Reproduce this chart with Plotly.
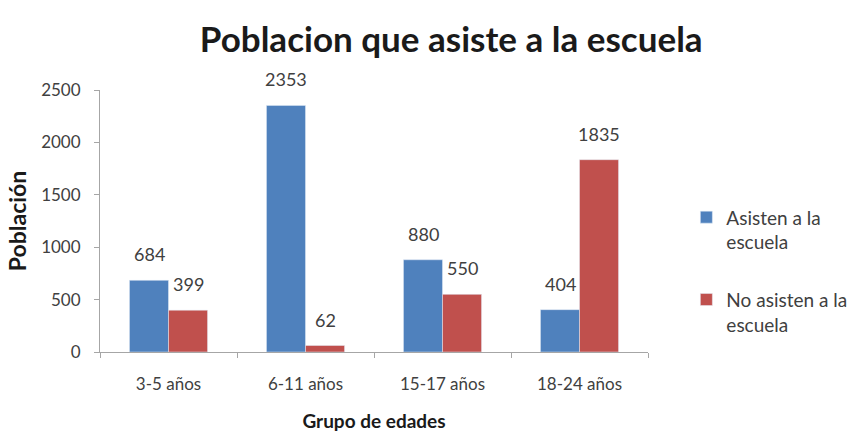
import plotly.graph_objects as go

categories = ["3-5 años", "6-11 años", "15-17 años", "18-24 años"]
asisten = [684, 2353, 880, 404]
no_asisten = [399, 62, 550, 1835]
series_names = ["Asisten a la<br>escuela", "No asisten a la<br>escuela"]
y_ticks = [0, 500, 1000, 1500, 2000, 2500]

FONT = "Lato"
BLUE = "#4F81BD"
RED = "#C0504D"
TXT = "#404040"

fig = go.Figure()
fig.add_trace(go.Bar(x=categories, y=asisten, name=series_names[0], marker_color=BLUE,
                     legendgroup="g1"))
fig.add_trace(go.Bar(x=categories, y=no_asisten, name=series_names[1], marker_color=RED,
                     legendgroup="g2"))

# value labels above bars
for vals, shift in ((asisten, -19.5), (no_asisten, 19.5)):
    for c, v in zip(categories, vals):
        fig.add_annotation(x=c, y=v, text=str(v), showarrow=False, xshift=shift,
                           yanchor="bottom", yshift=13,
                           font=dict(size=18, color=TXT, family=FONT))

fig.update_layout(
    width=853, height=433,
    margin=dict(l=100, r=205, t=90, b=81, autoexpand=False),
    paper_bgcolor="white", plot_bgcolor="white",
    barmode="group", bargap=0.43, bargroupgap=0,
    font=dict(family=FONT, color=TXT, size=17),
    title=dict(text="<b>Poblacion que asiste a la escuela</b>", x=0.529, xanchor="center",
               y=0.908, yanchor="middle", font=dict(size=35, color="#1a1a1a", family=FONT)),
    legend=dict(x=1.07, y=0.31, xanchor="left", yanchor="middle", valign="top",
                font=dict(size=19, color=TXT, family=FONT), tracegroupgap=30,
                itemwidth=30),
    showlegend=True,
)
fig.update_xaxes(showline=True, linecolor="#a6a6a6", linewidth=1, ticks="outside",
                 tickson="boundaries", ticklen=5, tickcolor="#a6a6a6",
                 ticklabelstandoff=17,
                 tickfont=dict(size=17, color=TXT),
                 title=dict(text="<b>Grupo de edades</b>", font=dict(size=19, color="#1a1a1a"), standoff=21))
fig.update_yaxes(range=[0, 2500], tickvals=y_ticks, showline=True, linecolor="#a6a6a6",
                 linewidth=1, ticks="outside", ticklen=5, tickcolor="#a6a6a6", showgrid=False,
                 ticklabelstandoff=10,
                 zeroline=False, tickfont=dict(size=17, color=TXT),
                 title=dict(text="<b>Población</b>", font=dict(size=23, color="#1a1a1a"), standoff=8))

fig.write_html("out.html", config={"displayModeBar": False},
               post_script="document.body.style.margin='0';")
